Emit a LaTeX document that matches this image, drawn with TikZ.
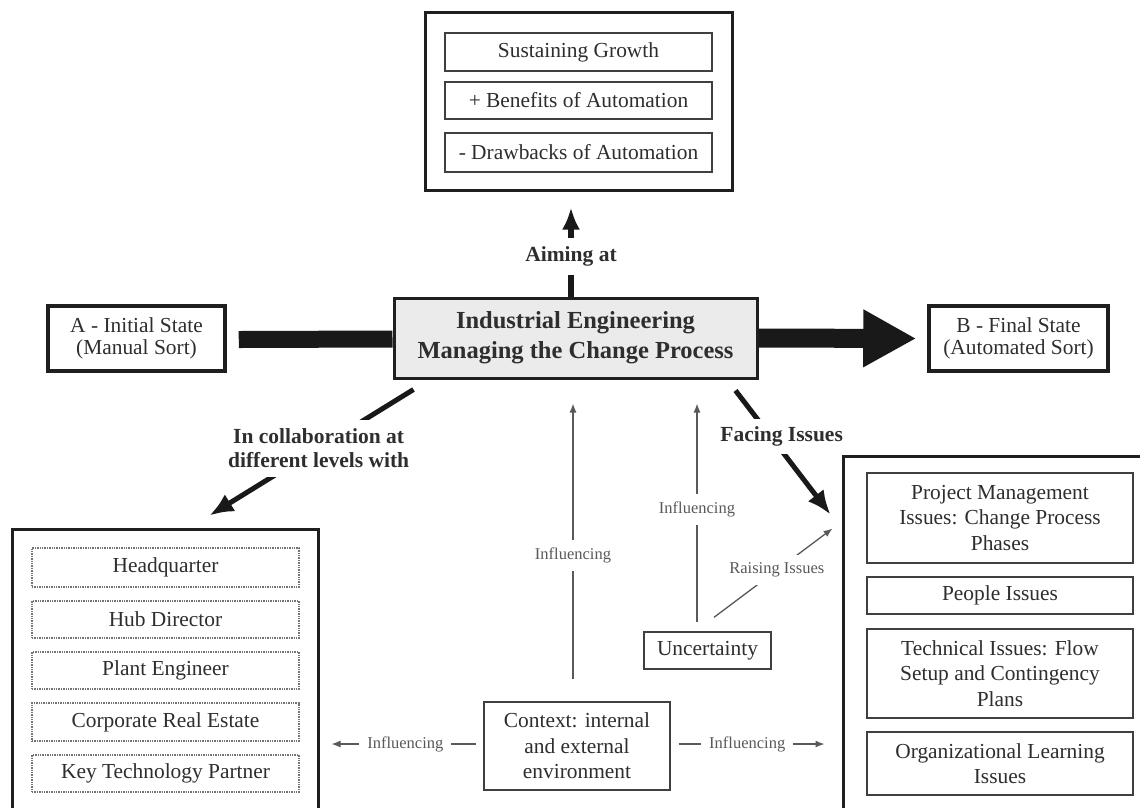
\documentclass[tikz,border=0pt]{standalone}
\usepackage{fontspec}
\setmainfont{Liberation Serif}
\usetikzlibrary{arrows.meta}

\begin{document}
\begin{tikzpicture}[x=1pt,y=-1pt,
    every node/.style={text=black!82},
    outerbox/.style={draw=black!88, line width=3pt, inner sep=0pt},
    itembox/.style={draw=black!75, line width=1.4pt, font=\fontsize{21.4}{25.5}\selectfont,
      align=center, minimum width=267pt, inner sep=0pt},
    dotbox/.style={itembox, draw=black!55, densely dotted, line width=1.3pt},
    statebox/.style={draw=black!88, line width=3.5pt, font=\fontsize{21.4}{22.5}\selectfont,
      align=center, minimum width=177pt, minimum height=65pt, inner sep=0pt},
    boldlabel/.style={fill=white, font=\bfseries\fontsize{21.5}{24}\selectfont, align=center, inner sep=9pt},
    smalllabel/.style={fill=white, text=black!65, font=\fontsize{16.5}{18}\selectfont, inner sep=8pt},
    bigarrow/.style={draw=black!90, line width=5pt, -{Latex[length=24pt,width=20pt]}},
    thinarrow/.style={draw=black!65, line width=1.3pt, -{Latex[length=9pt,width=7pt]}}]

    % 画布
    \clip (0,0) rectangle (1140,807);
    \fill[white] (0,0) rectangle (1140,807);

    % 目标
    \node[outerbox, minimum width=307pt, minimum height=178pt] (goals) at (578.5,101) {};
    \node[itembox, minimum height=38pt] (growth) at (578.5,52) {Sustaining Growth};
    \node[itembox, minimum height=37pt] (benefits) at (578.5,100.5) {+ Benefits of Automation};
    \node[itembox, minimum height=39pt] (drawbacks) at (578.5,152.5) {- Drawbacks of Automation};

    % 中间一行
    \node[outerbox, fill=black!8, minimum width=363pt, minimum height=80pt,
      font=\bfseries\fontsize{24.5}{30}\selectfont, align=center] (ie) at (575.5,338)
      {Industrial Engineering\\Managing the Change Process};
    \node[statebox] (initial) at (136.5,338.5) {A - Initial State\\(Manual Sort)};
    \node[statebox, minimum width=179pt] (final) at (1018.5,338.5) {B - Final State\\(Automated Sort)};

    % 合作方
    \node[outerbox, minimum width=306pt, minimum height=302pt] (partners) at (165,680) {};
    \node[dotbox, minimum height=39pt] (hq) at (165.5,567.5) {Headquarter};
    \node[dotbox, minimum height=37pt] (hub) at (165.5,619.5) {Hub Director};
    \node[dotbox, minimum height=37pt] (plant) at (165.5,670.5) {Plant Engineer};
    \node[dotbox, minimum height=38pt] (realestate) at (165.5,722) {Corporate Real Estate};
    \node[dotbox, minimum height=37pt] (partner) at (165.5,773.5) {Key Technology Partner};

    % 问题
    \node[outerbox, minimum width=317pt, minimum height=374pt] (issues) at (1001.5,643) {};
    \node[itembox, minimum width=266pt, minimum height=90pt] (pm) at (1000,518)
      {Project Management\\Issues: Change Process\\Phases};
    \node[itembox, minimum width=266pt, minimum height=37pt] (people) at (1000,595.5) {People Issues};
    \node[itembox, minimum width=266pt, minimum height=89pt] (tech) at (1000,673.5)
      {Technical Issues: Flow\\Setup and Contingency\\Plans};
    \node[itembox, minimum width=266pt, minimum height=63pt] (learning) at (1000,763.5)
      {Organizational Learning\\Issues};

    % 环境
    \node[itembox, minimum width=127pt, minimum height=37pt] (uncert) at (707.5,650.5) {Uncertainty};
    \node[itembox, minimum width=186pt, minimum height=88pt] (context) at (577,746)
      {Context: internal\\and external\\environment};

    % 粗箭头
    \draw[draw=black!90, line width=17pt] ([shift={(12,1)}]initial.east) -- ([shift={(0,1)}]ie.west);
    \draw[draw=black!90, line width=19pt, -{Triangle[length=53pt,width=54pt]}]
      (ie.east) -- ([shift={(-11,0)}]final.west);
    \draw[bigarrow, line width=6pt, -{Latex[length=22pt,width=18pt]}, shorten >=16pt]
      ([shift={(-4.5,0)}]ie.north) -- ([shift={(-7.5,0)}]goals.south)
      node[boldlabel, pos=0.38] {Aiming at};
    \draw[bigarrow] ([shift={(21,10)}]ie.south west) -- ([shift={(199,-12)}]partners.north west)
      node[boldlabel, pos=0.465] {In collaboration at\\different levels with};
    \draw[bigarrow] ([shift={(-23,11)}]ie.south east) -- ([shift={(-11,60)}]issues.north west)
      node[boldlabel, pos=0.37, xshift=11pt, inner xsep=1pt, inner ysep=8pt] {Facing Issues};

    % 细箭头
    \draw[thinarrow] ([shift={(6.5,-14)}]uncert.north) -- ([shift={(-9,74)}]issues.north west)
      node[smalllabel, pos=0.53] {Raising Issues};
    \draw[thinarrow] ([shift={(-10.5,-9)}]uncert.north) -- ([shift={(121.5,24)}]ie.south)
      node[smalllabel, pos=0.516] {Influencing};
    \draw[thinarrow] ([shift={(-4,-22)}]context.north) -- ([shift={(-2.5,24)}]ie.south)
      node[smalllabel, pos=0.45] {Influencing};
    \draw[thinarrow] ([shift={(-7,-2)}]context.west) -- ([shift={(12,64)}]partners.east)
      node[smalllabel, pos=0.49] {Influencing};
    \draw[thinarrow] ([shift={(8,-2)}]context.east) -- ([shift={(-17,101)}]issues.west)
      node[smalllabel, pos=0.47] {Influencing};

  \end{tikzpicture}
\end{document}
